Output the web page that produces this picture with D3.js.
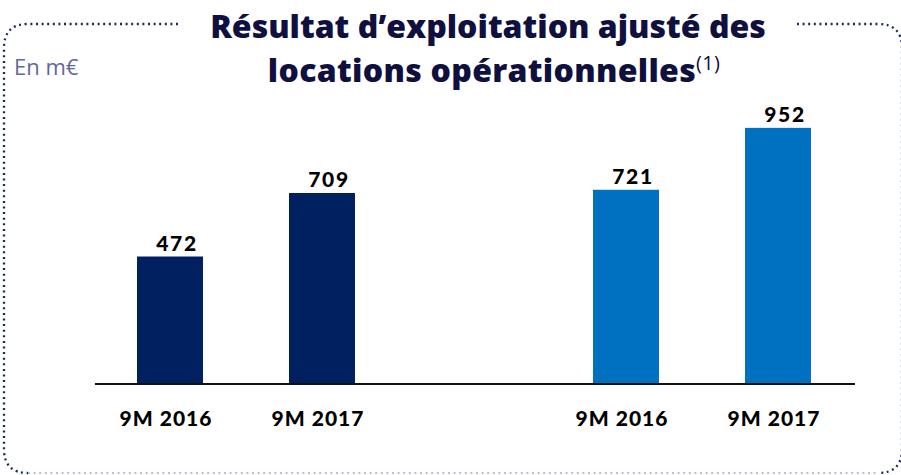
<!DOCTYPE html>
<html>
<head>
<meta charset="utf-8">
<script src="https://cdn.jsdelivr.net/npm/d3@7"></script>
<style>
  html, body { margin: 0; padding: 0; background: #fff; }
  svg { display: block; font-family: Lato, "Open Sans", sans-serif; }
</style>
</head>
<body>
<svg id="chart" width="901" height="475"></svg>
<script>
// Adjusted operating result of operational rentals, in m€
const categories = ["9M 2016", "9M 2017", "9M 2016", "9M 2017"];
const values = [472, 709, 721, 952];
const groups = [0, 0, 1, 1];
const groupColors = ["#002060", "#0070C0"];
const titleLines = ["Résultat d’exploitation ajusté des", "locations opérationnelles"];
const titleNote = "(1)";
const unitLabel = "En m€";

const svg = d3.select("#chart");

// Dotted rounded frame, broken at the top for the title
const frame = svg.append("g")
  .attr("fill", "none")
  .attr("stroke-width", 2.3)
  .attr("stroke-dasharray", "2 3.6");
const L = 4, T = 24, R = 902, B = 473, r = 24;
frame.append("path")
  .attr("stroke", "#1a2a5a")
  .attr("d", `M178,${T} L${L + r},${T} Q${L},${T} ${L},${T + r} L${L},${B - r} Q${L},${B} ${L + r},${B}`);
frame.append("path")
  .attr("stroke", "#1a2a5a")
  .attr("d", `M797,${T} L${R - r},${T} Q${R},${T} ${R},${T + r} L${R},${B - r} Q${R},${B} ${R - r},${B}`);
frame.append("path")
  .attr("stroke", "#a3a8cc")
  .attr("stroke-width", 1.6)
  .attr("d", `M${L + r},${B} L${R - r},${B}`);

// Title
const titleFont = "'Open Sans', Lato, sans-serif";
svg.append("text")
  .attr("x", 488).attr("y", 38)
  .attr("text-anchor", "middle")
  .attr("fill", "#0f0f40")
  .attr("font-family", titleFont)
  .attr("font-weight", 800)
  .attr("font-size", 32)
  .text(titleLines[0]);
const line2 = svg.append("text")
  .attr("x", 494).attr("y", 82)
  .attr("text-anchor", "middle")
  .attr("fill", "#0f0f40")
  .attr("font-family", titleFont)
  .attr("font-weight", 800)
  .attr("font-size", 32)
  .attr("letter-spacing", 0.3);
line2.append("tspan").text(titleLines[1]);
line2.append("tspan")
  .attr("font-size", 20)
  .attr("font-weight", 400)
  .attr("dy", -12)
  .text(titleNote);

svg.append("text")
  .attr("x", 14).attr("y", 75)
  .attr("fill", "#62679a")
  .attr("font-family", titleFont)
  .attr("font-size", 22)
  .text(unitLabel);

// Scales: five slots, the middle one left empty between the two groups
const slots = [0, 1, "gap", 2, 3];
const x = d3.scaleBand().domain(slots).range([94, 854]).paddingInner(0.566).paddingOuter(0.283);
const y = d3.scaleLinear().domain([0, 1000]).range([383, 115]);

const data = values.map((v, i) => ({ i, v, cat: categories[i], g: groups[i] }));

svg.append("g").selectAll("rect")
  .data(data)
  .join("rect")
  .attr("x", d => x(d.i))
  .attr("width", x.bandwidth())
  .attr("y", d => y(d.v))
  .attr("height", d => y(0) - y(d.v))
  .attr("fill", d => groupColors[d.g]);

// Baseline
svg.append("line")
  .attr("x1", 95).attr("x2", 855)
  .attr("y1", y(0) + 1).attr("y2", y(0) + 1)
  .attr("stroke", "#111")
  .attr("stroke-width", 2);

// Value labels
svg.append("g").selectAll("text")
  .data(data)
  .join("text")
  .attr("x", d => x(d.i) + x.bandwidth() / 2 + 7)
  .attr("y", d => y(d.v) - 6)
  .attr("text-anchor", "middle")
  .attr("font-weight", 900)
  .attr("font-size", 21)
  .attr("letter-spacing", 1.6)
  .attr("fill", "#000")
  .text(d => d.v);

// Category labels
svg.append("g").selectAll("text")
  .data(data)
  .join("text")
  .attr("x", d => x(d.i) + x.bandwidth() / 2 - 4)
  .attr("y", 426)
  .attr("text-anchor", "middle")
  .attr("font-weight", 900)
  .attr("font-size", 21)
  .attr("letter-spacing", 1)
  .attr("fill", "#000")
  .text(d => d.cat);
</script>
</body>
</html>
